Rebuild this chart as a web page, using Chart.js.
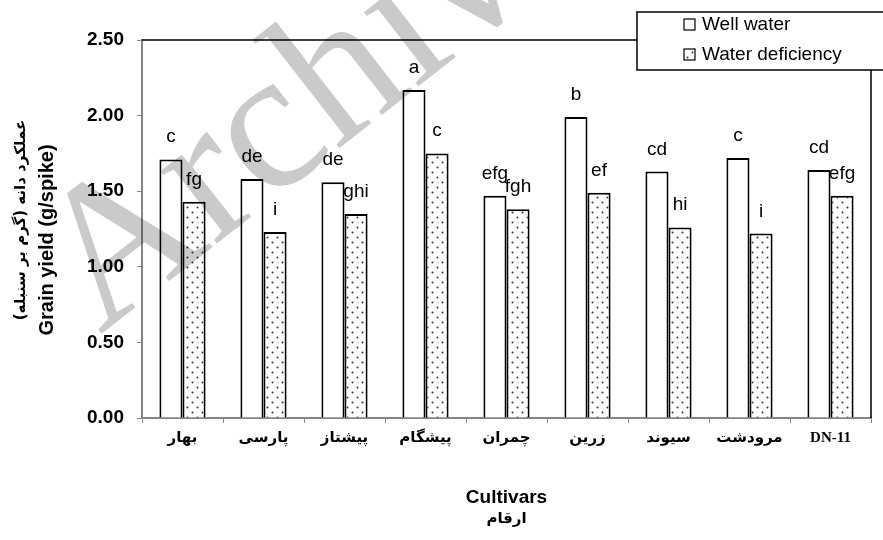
<!DOCTYPE html>
<html>
<head>
<meta charset="utf-8">
<script src="https://cdn.jsdelivr.net/npm/chart.js@4.4.0/dist/chart.umd.min.js"></script>
<style>
html,body{margin:0;padding:0;background:#fff;}
canvas{display:block;}
</style>
</head>
<body>
<canvas id="c" width="883" height="540"></canvas>
<script>
// ---- data ----
const categories = ['بهار','پارسی','پیشتاز','پیشگام','چمران','زرین','سیوند','مرودشت','DN-11'];
const wellWater = [1.71,1.58,1.56,2.17,1.47,1.99,1.63,1.72,1.64];
const waterDeficiency = [1.43,1.23,1.35,1.75,1.38,1.49,1.26,1.22,1.47];
const lettersWellWater = ['c','de','de','a','efg','b','cd','c','cd'];
const lettersWaterDeficiency = ['fg','i','ghi','c','fgh','ef','hi','i','efg'];
const seriesNames = ['Well water','Water deficiency'];
const yTitleEn = 'Grain yield (g/spike)';
const yTitleFa = 'عملکرد دانه (گرم بر سنبله)';
const xTitleEn = 'Cultivars';
const xTitleFa = 'ارقام';
const watermarkText = 'Archive of SID';

// dotted pattern
function makePattern(){
  const t = document.createElement('canvas');
  t.width = 10; t.height = 10;
  const g = t.getContext('2d');
  g.fillStyle = '#fff'; g.fillRect(0,0,10,10);
  g.fillStyle = '#333';
  [[2.5,2.5],[7.5,7.5]].forEach(p=>{g.beginPath();g.arc(p[0],p[1],1,0,Math.PI*2);g.fill();});
  return document.getElementById('c').getContext('2d').createPattern(t,'repeat');
}
const dotPattern = makePattern();

const AXIS_GRAY = '#868686';

const decorPlugin = {
  id: 'decor',
  afterDraw(chart){
    const ctx = chart.ctx;
    const a = chart.chartArea;
    ctx.save();
    // top & right border
    ctx.strokeStyle = '#000'; ctx.lineWidth = 1.5;
    ctx.beginPath();
    ctx.moveTo(a.left, a.top); ctx.lineTo(a.right, a.top); ctx.lineTo(a.right, a.bottom);
    ctx.stroke();
    // letters
    ctx.fillStyle = '#000';
    ctx.font = '19px "Liberation Sans", Arial, sans-serif';
    ctx.textAlign = 'center'; ctx.textBaseline = 'alphabetic';
    const lets = [lettersWellWater, lettersWaterDeficiency];
    chart.data.datasets.forEach((ds, di) => {
      chart.getDatasetMeta(di).data.forEach((bar, i) => {
        ctx.fillText(lets[di][i], bar.x, bar.y - 17);
      });
    });
    // y title
    ctx.save();
    ctx.translate(47, 240);
    ctx.rotate(-Math.PI/2);
    ctx.textBaseline = 'middle';
    ctx.font = 'bold 20px "Liberation Sans", Arial, sans-serif';
    ctx.fillText(yTitleEn, 0, 0);
    ctx.font = 'bold 15px "DejaVu Sans", sans-serif';
    ctx.fillText(yTitleFa, 20, -26);
    ctx.restore();
    // x title
    ctx.textBaseline = 'middle';
    ctx.font = 'bold 19px "Liberation Sans", Arial, sans-serif';
    ctx.fillText(xTitleEn, (a.left + a.right)/2, 498);
    ctx.font = 'bold 15px "DejaVu Sans", sans-serif';
    ctx.fillText(xTitleFa, (a.left + a.right)/2, 519);
    // legend box
    ctx.fillStyle = '#fff';
    ctx.fillRect(637, 12, 260, 58);
    ctx.strokeStyle = '#000'; ctx.lineWidth = 1.5;
    ctx.strokeRect(637, 12, 260, 58);
    ctx.lineWidth = 1.2;
    ctx.fillStyle = '#fff';
    ctx.fillRect(684, 19, 11, 11); ctx.strokeRect(684, 19, 11, 11);
    ctx.fillStyle = dotPattern;
    ctx.fillRect(684, 49, 11, 11); ctx.strokeRect(684, 49, 11, 11);
    ctx.fillStyle = '#000';
    ctx.textAlign = 'left';
    ctx.font = '19px "Liberation Sans", Arial, sans-serif';
    ctx.fillText(seriesNames[0], 702, 25);
    ctx.fillText(seriesNames[1], 702, 55);
    // watermark
    ctx.globalCompositeOperation = 'multiply';
    ctx.fillStyle = '#cacaca';
    ctx.translate(100, 335);
    ctx.rotate(-38*Math.PI/180);
    ctx.font = '200px "Liberation Serif", serif';
    ctx.textAlign = 'left'; ctx.textBaseline = 'alphabetic';
    ctx.fillText(watermarkText, 0, 0);
    ctx.restore();
  }
};

new Chart(document.getElementById('c'), {
  type: 'bar',
  data: {
    labels: categories,
    datasets: [
      { label: seriesNames[0], data: wellWater, backgroundColor: '#fff', borderColor: '#000', borderWidth: 2, borderSkipped: 'bottom' },
      { label: seriesNames[1], data: waterDeficiency, backgroundColor: dotPattern, borderColor: '#000', borderWidth: 2, borderSkipped: 'bottom' }
    ]
  },
  options: {
    responsive: false,
    animation: false,
    devicePixelRatio: 1,
    layout: { padding: { left: 0, top: 40, right: 12, bottom: 0 } },
    datasets: { bar: { categoryPercentage: 0.57, barPercentage: 1.0 } },
    plugins: { legend: { display: false }, tooltip: { enabled: false } },
    scales: {
      x: {
        grid: { display: true, drawOnChartArea: false, drawTicks: true, tickLength: 5, color: AXIS_GRAY, offset: true },
        border: { display: true, color: AXIS_GRAY, width: 2 },
        ticks: {
          color: '#000', padding: 6, maxRotation: 0, autoSkip: false,
          font: { family: '"Liberation Serif", "DejaVu Sans", serif', size: 15, weight: 'bold' }
        },
        afterFit(s){ s.height = 122; }
      },
      y: {
        min: 0, max: 2.5,
        grid: { display: true, drawOnChartArea: false, drawTicks: true, tickLength: 5, color: AXIS_GRAY },
        border: { display: true, color: AXIS_GRAY, width: 2 },
        ticks: {
          stepSize: 0.5, color: '#000', padding: 13,
          font: { family: '"Liberation Sans", Arial, sans-serif', size: 19, weight: 'bold' },
          callback: v => Number(v).toFixed(2)
        },
        afterFit(s){ s.width = 142; }
      }
    }
  },
  plugins: [decorPlugin]
});
</script>
</body>
</html>
